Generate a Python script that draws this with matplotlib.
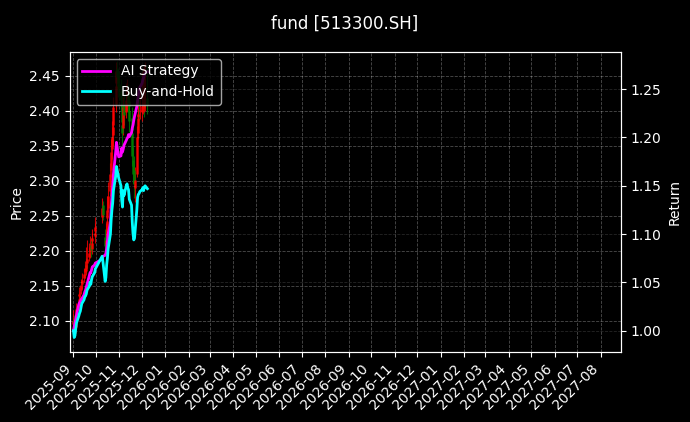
import matplotlib
matplotlib.use("Agg")
import matplotlib.pyplot as plt
import matplotlib.dates as mdates
import numpy as np
import pandas as pd

#========================================================================================
# trading days shown in the chart
dates = (
    ["2025-09-%02d" % d for d in [1, 2, 3, 4, 5, 8, 9, 10, 11, 12, 15, 16, 17, 18, 19,
                                  22, 23, 24, 25, 26, 29, 30]]
    + ["2025-10-%02d" % d for d in [9, 10, 13, 14, 15, 16, 17, 20, 21, 22, 23, 24,
                                    27, 28, 29, 30, 31]]
    + ["2025-11-%02d" % d for d in [3, 4, 5, 6, 7, 10, 11, 12, 13, 14, 17, 18, 19, 20,
                                    21, 24, 25, 26, 27, 28]]
    + ["2025-12-%02d" % d for d in [1, 2, 3, 4, 5, 8]]
)

opens = [2.095, 2.102, 2.083, 2.092, 2.106, 2.120, 2.135, 2.140, 2.144, 2.153, 2.162,
         2.170, 2.178, 2.172, 2.183, 2.192, 2.200, 2.208, 2.203, 2.214, 2.221, 2.229,
         2.248, 2.265, 2.220, 2.210, 2.222, 2.247, 2.262, 2.285, 2.315, 2.345, 2.366,
         2.380, 2.410, 2.440, 2.460, 2.452, 2.438,
         2.428, 2.410, 2.380, 2.375, 2.408, 2.398, 2.418, 2.422, 2.414, 2.400, 2.390,
         2.368, 2.330, 2.315, 2.290, 2.310, 2.368, 2.392, 2.399, 2.400,
         2.398, 2.410, 2.412, 2.404, 2.415, 2.418]
highs = [2.115, 2.108, 2.098, 2.110, 2.125, 2.140, 2.148, 2.152, 2.160, 2.168, 2.176,
         2.186, 2.190, 2.205, 2.215, 2.212, 2.222, 2.218, 2.226, 2.232, 2.240, 2.248,
         2.275, 2.272, 2.232, 2.240, 2.262, 2.278, 2.298, 2.325, 2.360, 2.385, 2.398,
         2.420, 2.455, 2.470, 2.472, 2.462, 2.455,
         2.445, 2.420, 2.395, 2.420, 2.425, 2.440, 2.445, 2.438, 2.430, 2.418, 2.405,
         2.380, 2.348, 2.335, 2.320, 2.378, 2.405, 2.418, 2.425, 2.440,
         2.455, 2.462, 2.458, 2.465, 2.470, 2.465]
lows = [2.088, 2.080, 2.078, 2.088, 2.100, 2.114, 2.128, 2.131, 2.138, 2.146, 2.155,
        2.162, 2.168, 2.165, 2.176, 2.185, 2.190, 2.192, 2.196, 2.205, 2.212, 2.220,
        2.240, 2.244, 2.195, 2.200, 2.215, 2.240, 2.255, 2.278, 2.305, 2.332, 2.350,
        2.365, 2.398, 2.425, 2.430, 2.420, 2.415,
        2.400, 2.370, 2.350, 2.365, 2.380, 2.390, 2.400, 2.398, 2.392, 2.370, 2.360,
        2.322, 2.295, 2.275, 2.270, 2.305, 2.360, 2.380, 2.385, 2.388,
        2.385, 2.395, 2.392, 2.398, 2.400, 2.396]
closes = [2.100, 2.085, 2.090, 2.104, 2.117, 2.132, 2.138, 2.142, 2.150, 2.159, 2.167,
          2.174, 2.176, 2.180, 2.188, 2.197, 2.205, 2.201, 2.211, 2.218, 2.226, 2.234,
          2.262, 2.251, 2.207, 2.216, 2.243, 2.258, 2.279, 2.310, 2.342, 2.363, 2.377,
          2.405, 2.436, 2.457, 2.449, 2.440, 2.432,
          2.415, 2.384, 2.369, 2.405, 2.394, 2.415, 2.419, 2.411, 2.407, 2.386, 2.373,
          2.335, 2.310, 2.297, 2.302, 2.363, 2.390, 2.396, 2.398, 2.402,
          2.407, 2.411, 2.405, 2.413, 2.415, 2.409]

ai_strategy = [1.000, 1.004, 1.008, 1.012, 1.016, 1.027, 1.029, 1.030, 1.032, 1.033, 1.037,
               1.040, 1.042, 1.045, 1.048, 1.057, 1.060, 1.060, 1.063, 1.066, 1.068, 1.070,
               1.074, 1.077, 1.078, 1.080, 1.085, 1.092, 1.100, 1.112, 1.128, 1.140, 1.150,
               1.162, 1.185, 1.195, 1.190, 1.184, 1.180,
               1.181, 1.189, 1.185, 1.188, 1.192, 1.197, 1.199, 1.200, 1.203, 1.201, 1.205,
               1.210, 1.213, 1.218, 1.222, 1.232, 1.238, 1.243, 1.248, 1.252,
               1.256, 1.260, 1.262, 1.265, 1.267, 1.268]
buy_hold = [1.000, 0.993, 0.995, 1.002, 1.008, 1.015, 1.018, 1.020, 1.024, 1.028, 1.032,
            1.035, 1.036, 1.038, 1.042, 1.046, 1.050, 1.048, 1.053, 1.056, 1.060, 1.064,
            1.077, 1.072, 1.051, 1.055, 1.068, 1.075, 1.085, 1.100, 1.115, 1.125, 1.132,
            1.145, 1.160, 1.170, 1.166, 1.162, 1.158,
            1.150, 1.135, 1.128, 1.145, 1.140, 1.150, 1.152, 1.148, 1.146, 1.136, 1.130,
            1.112, 1.100, 1.094, 1.096, 1.125, 1.138, 1.141, 1.142, 1.144,
            1.146, 1.148, 1.145, 1.149, 1.150, 1.147]

code = "513300.SH"
#========================================================================================

plt.style.use("dark_background")
fig = plt.figure(figsize=(6.9, 4.22), dpi=100)
ax = fig.add_axes([0.101, 0.166, 0.799, 0.711])
ax2 = ax.twinx()

x = pd.to_datetime(dates)
o = np.array(opens)
c = np.array(closes)
up = c >= o
col = np.where(up, "red", "green")

# candles: wick + body
ax.vlines(x, lows, highs, colors=col, linewidth=0.8, alpha=0.8)
ax.vlines(x, np.minimum(o, c), np.maximum(o, c), colors=col, linewidth=1.8, alpha=0.9)

ax2.plot(x, ai_strategy, color="#ff00ff", linewidth=2, label="AI Strategy")
ax2.plot(x, buy_hold, color="#00ffff", linewidth=2, label="Buy-and-Hold")

ax.set_xlim(pd.Timestamp("2025-08-27"), pd.Timestamp("2027-08-28"))
ax.set_ylim(2.0557, 2.4843)
ax2.set_ylim(0.978, 1.2886)

ax.xaxis.set_major_locator(mdates.MonthLocator())
ax.xaxis.set_major_formatter(mdates.DateFormatter("%Y-%m"))
plt.setp(ax.get_xticklabels(), rotation=45, ha="right")

ax.set_ylabel("Price")
ax2.set_ylabel("Return")
ax.grid(True, linestyle="--", linewidth=0.6, alpha=0.3)
ax2.grid(True, axis="y", linestyle="--", linewidth=0.6, alpha=0.15)

ax2.legend(loc="upper left")
fig.suptitle("fund [%s]" % code, fontsize=12, y=0.965)

fig.savefig("out.png", dpi=100)
